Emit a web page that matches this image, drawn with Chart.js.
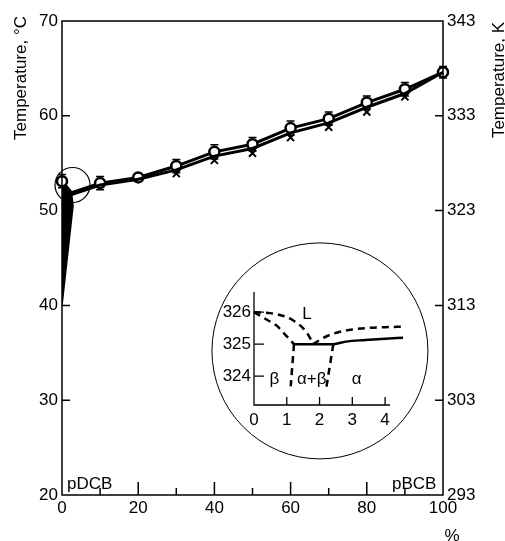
<!DOCTYPE html>
<html>
<head>
<meta charset="utf-8">
<script src="https://cdn.jsdelivr.net/npm/chart.js@4"></script>
<style>
  html, body { margin: 0; padding: 0; background: #fff; }
  #wrap { position: relative; width: 505px; height: 541px; overflow: hidden; }
  #main { position: absolute; left: 0; top: 0; }
  #inset { position: absolute; left: 200px; top: 260px; }
</style>
</head>
<body>
<div id="wrap">
  <canvas id="main" width="505" height="541" style="width:505px;height:541px"></canvas>
  <canvas id="inset" width="240" height="190" style="width:240px;height:190px"></canvas>
</div>
<script>
// main diagram: composition (%) vs temperature (°C)
const liquidusX = [0, 2.5, 10, 20, 30, 40, 50, 60, 70, 80, 90, 100];
const liquidusC = [53.1, 51.9, 52.9, 53.5, 54.7, 56.2, 57.0, 58.7, 59.7, 61.4, 62.8, 64.6];
const liquidusErr = [0.7, 0, 0.7, 0, 0.7, 0.75, 0.7, 0.75, 0.7, 0.7, 0.7, 0.6];
// lower drawn curve (just under the liquidus) and the measured solidus crosses
const lowerLineX = [2.5, 10, 20, 30, 40, 50, 60, 70, 80, 90, 100];
const lowerLineC = [51.7, 52.7, 53.3, 54.3, 55.75, 56.55, 58.2, 59.25, 60.9, 62.35, 64.6];
const solidusX = [30, 40, 50, 60, 70, 80, 90];
const solidusC = [53.9, 55.3, 56.05, 57.7, 58.8, 60.4, 62.0];
const wedgeX = [0, 0, 2.5, 2.9, 0];
const wedgeC = [40, 52.6, 51.9, 50.5, 40];
const compTicks = [0, 10, 20, 30, 40, 50, 60, 70, 80, 90, 100];
const tempTicksC = [20, 30, 40, 50, 60, 70];
const tempTicksK = [293, 303, 313, 323, 333, 343];

// inset: 0-4 % region around the eutectoid (K)
const insetTicksX = [0, 1, 2, 3, 4];
const insetTicksK = [324, 325, 326];
const liqLeftX = [0, 0.5, 0.9, 1.2, 1.45, 1.65, 1.8];
const liqLeftK = [326, 325.97, 325.88, 325.74, 325.55, 325.3, 325.02];
const solLeftX = [0, 0.7, 1.22];
const solLeftK = [326, 325.58, 325.0];
const liqRightX = [1.8, 2.2, 2.6, 3.0, 3.5, 4.0, 4.55];
const liqRightK = [325.0, 325.24, 325.38, 325.46, 325.51, 325.53, 325.55];
const solRightX = [1.22, 2.42, 2.8, 3.4, 4.0, 4.55];
const solRightK = [325.0, 325.0, 325.08, 325.13, 325.17, 325.2];
const solvusBetaX = [1.22, 1.12];
const solvusBetaK = [325.0, 323.68];
const solvusAlphaX = [2.42, 2.19];
const solvusAlphaK = [325.0, 323.53];
const phaseLabels = ["L", "β", "α+β", "α"];
const phaseX = [1.62, 0.62, 1.76, 3.13];
const phaseK = [325.94, 323.9, 323.9, 323.9];

const FONT = "Liberation Sans";
const pts = (xs, ys) => xs.map((v, i) => ({ x: v, y: ys[i] }));

const mainDecor = {
  id: "mainDecor",
  beforeDatasetsDraw(chart) {
    const { ctx, scales: { x, y } } = chart;
    ctx.save();
    ctx.strokeStyle = "#000";
    ctx.lineWidth = 1.5;
    liquidusErr.forEach((e, i) => {
      if (!e) return;
      const px = x.getPixelForValue(liquidusX[i]);
      const top = y.getPixelForValue(liquidusC[i] + e);
      const bot = y.getPixelForValue(liquidusC[i] - e);
      ctx.beginPath();
      ctx.moveTo(px, top); ctx.lineTo(px, bot);
      ctx.moveTo(px - 4, top); ctx.lineTo(px + 4, top);
      ctx.moveTo(px - 4, bot); ctx.lineTo(px + 4, bot);
      ctx.stroke();
    });
    ctx.restore();
  },
  afterDraw(chart) {
    const { ctx, chartArea: a, scales: { x, y, y2 } } = chart;
    ctx.save();
    ctx.strokeStyle = "#000";
    ctx.fillStyle = "#000";
    ctx.lineWidth = 1.5;
    ctx.strokeRect(a.left, a.top, a.right - a.left, a.bottom - a.top);

    // inward tick marks
    ctx.beginPath();
    tempTicksC.slice(1, -1).forEach(v => {
      const py = y.getPixelForValue(v);
      ctx.moveTo(a.left, py); ctx.lineTo(a.left + 8, py);
    });
    tempTicksK.slice(1, -1).forEach(v => {
      const py = y2.getPixelForValue(v);
      ctx.moveTo(a.right, py); ctx.lineTo(a.right - 8, py);
    });
    compTicks.slice(1, -1).forEach(v => {
      const px = x.getPixelForValue(v);
      ctx.moveTo(px, a.bottom); ctx.lineTo(px, a.bottom - (v % 20 === 0 ? 13 : 7));
    });
    ctx.stroke();

    // circle around the low-concentration region
    ctx.lineWidth = 1.2;
    ctx.beginPath();
    ctx.arc(x.getPixelForValue(2.76), y.getPixelForValue(52.7), 17.5, 0, Math.PI * 2);
    ctx.stroke();
    // magnified circle holding the inset
    ctx.lineWidth = 1;
    ctx.beginPath();
    ctx.arc(x.getPixelForValue(67.7), y.getPixelForValue(35.2), 108, 0, Math.PI * 2);
    ctx.stroke();

    // texts
    ctx.font = `17px "${FONT}"`;
    ctx.textAlign = "left";
    ctx.textBaseline = "alphabetic";
    ctx.fillText("pDCB", 67, 489);
    ctx.fillText("pBCB", 392, 489);
    ctx.textBaseline = "top";
    ctx.textAlign = "center";
    ctx.fillText("%", 452, 528);

    ctx.textBaseline = "middle";
    ctx.save();
    ctx.translate(21, 78);
    ctx.rotate(-Math.PI / 2);
    ctx.fillText("Temperature, °C", 0, 0);
    ctx.restore();
    ctx.save();
    ctx.translate(499, 80);
    ctx.rotate(-Math.PI / 2);
    ctx.fillText("Temperature, K", 0, 0);
    ctx.restore();
    ctx.restore();
  }
};

const tickFont = { family: FONT, size: 17 };

new Chart(document.getElementById("main"), {
  type: "scatter",
  data: {
    datasets: [
      {
        data: pts(wedgeX, wedgeC),
        showLine: true,
        fill: "shape",
        backgroundColor: "#000",
        borderColor: "#000",
        borderWidth: 1.5,
        pointRadius: 0,
        tension: 0
      },
      {
        data: pts(solidusX, solidusC),
        showLine: false,
        pointStyle: "crossRot",
        pointRadius: 5,
        pointBorderWidth: 2,
        pointBorderColor: "#000",
        clip: false
      },
      {
        data: pts(lowerLineX, lowerLineC),
        showLine: true,
        borderColor: "#000",
        borderWidth: 3,
        pointRadius: 0,
        clip: false
      },
      {
        data: pts(liquidusX, liquidusC),
        showLine: true,
        borderColor: "#000",
        borderWidth: 3,
        pointStyle: "circle",
        pointRadius: liquidusX.map(v => (v === 2.5 ? 0 : 5)),
        pointBorderWidth: 2.5,
        pointBorderColor: "#000",
        pointBackgroundColor: "#fff",
        clip: false
      }
    ]
  },
  options: {
    responsive: false,
    animation: false,
    layout: { padding: { top: 21, left: 0, right: 0, bottom: 0 } },
    plugins: { legend: { display: false }, tooltip: { enabled: false } },
    scales: {
      x: {
        type: "linear",
        min: 0,
        max: 100,
        afterBuildTicks: s => { s.ticks = compTicks.map(v => ({ value: v })); },
        afterFit: s => { s.height = 46; },
        ticks: {
          callback: v => (v % 20 === 0 ? v : ""),
          color: "#000",
          font: tickFont,
          padding: 3,
          maxRotation: 0,
          autoSkip: false
        },
        grid: { display: false, drawTicks: false },
        border: { display: false }
      },
      y: {
        position: "left",
        min: 20,
        max: 70,
        afterBuildTicks: s => { s.ticks = tempTicksC.map(v => ({ value: v })); },
        afterFit: s => { s.width = 62; },
        ticks: { color: "#000", font: tickFont, padding: 4 },
        grid: { display: false, drawTicks: false },
        border: { display: false }
      },
      y2: {
        position: "right",
        min: 293,
        max: 343,
        afterBuildTicks: s => { s.ticks = tempTicksK.map(v => ({ value: v })); },
        afterFit: s => { s.width = 62; },
        ticks: { color: "#000", font: tickFont, padding: 4 },
        grid: { display: false, drawTicks: false },
        border: { display: false }
      }
    }
  },
  plugins: [mainDecor]
});

const insetDecor = {
  id: "insetDecor",
  afterDraw(chart) {
    const { ctx, chartArea: a, scales: { x, y } } = chart;
    ctx.save();
    ctx.strokeStyle = "#000";
    ctx.fillStyle = "#000";
    ctx.lineWidth = 1.3;
    ctx.beginPath();
    ctx.moveTo(a.left, a.top); ctx.lineTo(a.left, a.bottom); ctx.lineTo(a.right, a.bottom);
    insetTicksK.forEach(v => {
      const py = y.getPixelForValue(v);
      ctx.moveTo(a.left, py); ctx.lineTo(a.left + 10, py);
    });
    insetTicksX.slice(1).forEach(v => {
      const px = x.getPixelForValue(v);
      ctx.moveTo(px, a.bottom); ctx.lineTo(px, a.bottom - 8);
    });
    ctx.stroke();
    ctx.font = `17px "${FONT}"`;
    ctx.textAlign = "center";
    ctx.textBaseline = "middle";
    phaseLabels.forEach((t, i) => {
      ctx.fillText(t, x.getPixelForValue(phaseX[i]), y.getPixelForValue(phaseK[i]));
    });
    ctx.restore();
  }
};

const dashed = { borderColor: "#000", borderWidth: 2.5, borderDash: [7, 5], showLine: true, pointRadius: 0, clip: false };
const solid = { borderColor: "#000", borderWidth: 2.5, showLine: true, pointRadius: 0, clip: false };

new Chart(document.getElementById("inset"), {
  type: "scatter",
  data: {
    datasets: [
      { ...dashed, data: pts(liqLeftX, liqLeftK), cubicInterpolationMode: "monotone" },
      { ...dashed, data: pts(solLeftX, solLeftK) },
      { ...dashed, data: pts(liqRightX, liqRightK), cubicInterpolationMode: "monotone" },
      { ...solid, data: pts(solRightX, solRightK), cubicInterpolationMode: "monotone" },
      { ...dashed, data: pts(solvusBetaX, solvusBetaK) },
      { ...dashed, data: pts(solvusAlphaX, solvusAlphaK) }
    ]
  },
  options: {
    responsive: false,
    animation: false,
    layout: { padding: { top: 32, right: 50, left: 0, bottom: 0 } },
    plugins: { legend: { display: false }, tooltip: { enabled: false } },
    scales: {
      x: {
        type: "linear",
        min: 0,
        max: 4.15,
        afterBuildTicks: s => { s.ticks = insetTicksX.map(v => ({ value: v })); },
        afterFit: s => { s.height = 45; },
        ticks: { color: "#000", font: tickFont, padding: 5, maxRotation: 0, autoSkip: false },
        grid: { display: false, drawTicks: false },
        border: { display: false }
      },
      y: {
        min: 323.1,
        max: 326.63,
        afterBuildTicks: s => { s.ticks = insetTicksK.map(v => ({ value: v })); },
        afterFit: s => { s.width = 54; },
        ticks: { color: "#000", font: tickFont, padding: 3 },
        grid: { display: false, drawTicks: false },
        border: { display: false }
      }
    }
  },
  plugins: [insetDecor]
});
</script>
</body>
</html>
